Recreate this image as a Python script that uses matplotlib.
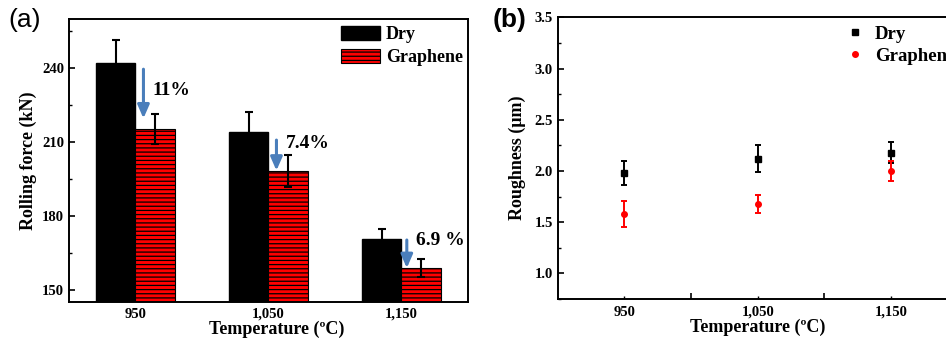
import matplotlib
matplotlib.use('Agg')
from matplotlib import pyplot as plt
from matplotlib.ticker import MultipleLocator, FixedLocator
import numpy as np

plt.rcParams['font.family'] = ['Liberation Serif', 'DejaVu Serif']
plt.rcParams['font.weight'] = 'bold'
plt.rcParams['axes.labelweight'] = 'bold'
plt.rcParams['hatch.linewidth'] = 0.9
plt.rcParams['axes.linewidth'] = 1.4

temps = ['950', '1,050', '1,150']

# rolling force, kN
force_dry = [242.3, 214.2, 170.6]
force_dry_err = [9.0, 8.0, 4.2]
force_gr = [215.4, 198.2, 158.7]
force_gr_err = [6.0, 6.5, 3.6]
drops = ['11%', '7.4%', '6.9 %']

# surface roughness, um
temp_vals = [950, 1050, 1150]
rough_dry = [1.98, 2.12, 2.18]
rough_dry_err = [0.12, 0.13, 0.10]
rough_gr = [1.58, 1.68, 2.00]
rough_gr_err = [0.13, 0.09, 0.10]

arrow_color = '#4a7ebb'

fig = plt.figure(figsize=(9.46, 3.38), dpi=100)

# ---- (a) rolling force bars
ax1 = fig.add_axes([0.0729, 0.1065, 0.4218, 0.8373])
x = np.arange(len(temps))
w = 0.3
ax1.bar(x - w / 2, force_dry, w, color='black', edgecolor='black', label='Dry')
ax1.errorbar(x - w / 2, force_dry, yerr=force_dry_err, fmt='none', ecolor='black',
             elinewidth=1.5, capsize=3, capthick=1.5)
ax1.bar(x + w / 2, force_gr, w, color='#ff0000', edgecolor='black', hatch='----',
        linewidth=0.8, label='Graphene')
ax1.errorbar(x + w / 2, force_gr, yerr=force_gr_err, fmt='none', ecolor='black',
             elinewidth=1.5, capsize=3, capthick=1.5)

# reduction arrows: start just under the dry bar top, point at the graphene bar
arrow_x = [0.06, 1.06, 2.04]
start_gap = [2.7, 3.4, 0.4]
tip_gap = [4.2, 0.2, 0.1]
label_x = [0.13, 1.13, 2.11]
label_gap = [11.3, 4.6, 0.8]
for i in range(len(temps)):
    ax1.annotate('', xy=(arrow_x[i], force_gr[i] + tip_gap[i]),
                 xytext=(arrow_x[i], force_dry[i] - start_gap[i]),
                 arrowprops=dict(arrowstyle='-|>,head_width=0.35,head_length=0.8',
                                 color=arrow_color, lw=2.2, shrinkA=0, shrinkB=0))
    ax1.text(label_x[i], force_dry[i] - label_gap[i], drops[i], fontsize=14,
             va='center', ha='left')

ax1.set_xlim(-0.5, 2.5)
ax1.set_ylim(145, 260)
ax1.set_xticks(x)
ax1.set_xticklabels(temps, fontweight='bold')
ax1.tick_params(axis='x', length=0, labelsize=10.5, pad=4)
ax1.set_yticks([150, 180, 210, 240])
ax1.set_yticklabels(['150', '180', '210', '240'], fontweight='bold')
ax1.yaxis.set_minor_locator(FixedLocator([165, 195, 225, 255]))
ax1.tick_params(axis='y', which='major', direction='in', length=4, width=1.2, labelsize=10.5)
ax1.tick_params(axis='y', which='minor', direction='in', length=2, width=1.0)
ax1.set_xlabel('Temperature (ºC)', fontsize=13, labelpad=0)
ax1.xaxis.label.set_x(0.52)
ax1.set_ylabel('Rolling force (kN)', fontsize=13, labelpad=4)
ax1.legend(loc='upper right', bbox_to_anchor=(1.005, 1.0), frameon=False, fontsize=13,
           handlelength=2.2, handleheight=0.8, handletextpad=0.3, labelspacing=0.3,
           borderaxespad=0.0)
fig.text(0.009, 0.975, '(a)', fontsize=19, fontweight='normal', family='Liberation Sans',
         va='top', ha='left')

# ---- (b) roughness points
ax2 = fig.add_axes([0.5895, 0.1154, 0.4229, 0.8334])
ax2.errorbar(temp_vals, rough_dry, yerr=rough_dry_err, fmt='s', color='black',
             markersize=4, elinewidth=1.4, capsize=2.5, capthick=1.4, label='Dry')
ax2.errorbar(temp_vals, rough_gr, yerr=rough_gr_err, fmt='o', color='#ff0000',
             markersize=4, elinewidth=1.4, capsize=2.5, capthick=1.4, label='Graphene')
ax2.set_xlim(900, 1200)
ax2.set_ylim(0.75, 3.5)
ax2.xaxis.set_major_locator(FixedLocator(temp_vals))
ax2.set_xticklabels(temps, fontweight='bold')
ax2.xaxis.set_minor_locator(FixedLocator([1000, 1100]))
ax2.tick_params(axis='x', which='major', direction='in', length=2, width=1.0, labelsize=10.5, pad=5)
ax2.tick_params(axis='x', which='minor', direction='in', length=4, width=1.2)
ax2.set_yticks([1.0, 1.5, 2.0, 2.5, 3.0, 3.5])
ax2.set_yticklabels(['1.0', '1.5', '2.0', '2.5', '3.0', '3.5'], fontweight='bold')
ax2.yaxis.set_minor_locator(MultipleLocator(0.25))
ax2.tick_params(axis='y', which='major', direction='in', length=4, width=1.2, labelsize=10.5)
ax2.tick_params(axis='y', which='minor', direction='in', length=2, width=1.0)
ax2.set_xlabel('Temperature (ºC)', fontsize=13, labelpad=0)
ax2.set_ylabel('Roughness (μm)', fontsize=13, labelpad=6)
handles, labels = ax2.get_legend_handles_labels()
ax2.legend([h[0] for h in handles], labels, loc='upper left', bbox_to_anchor=(0.68, 1.03),
           frameon=False, fontsize=13.5, handlelength=0.9, handletextpad=0.6,
           labelspacing=0.25, markerscale=1.0)
fig.text(0.521, 0.975, '(b)', fontsize=19, fontweight='bold', family='Liberation Sans',
         va='top', ha='left')

fig.savefig('out.png', dpi=100)
